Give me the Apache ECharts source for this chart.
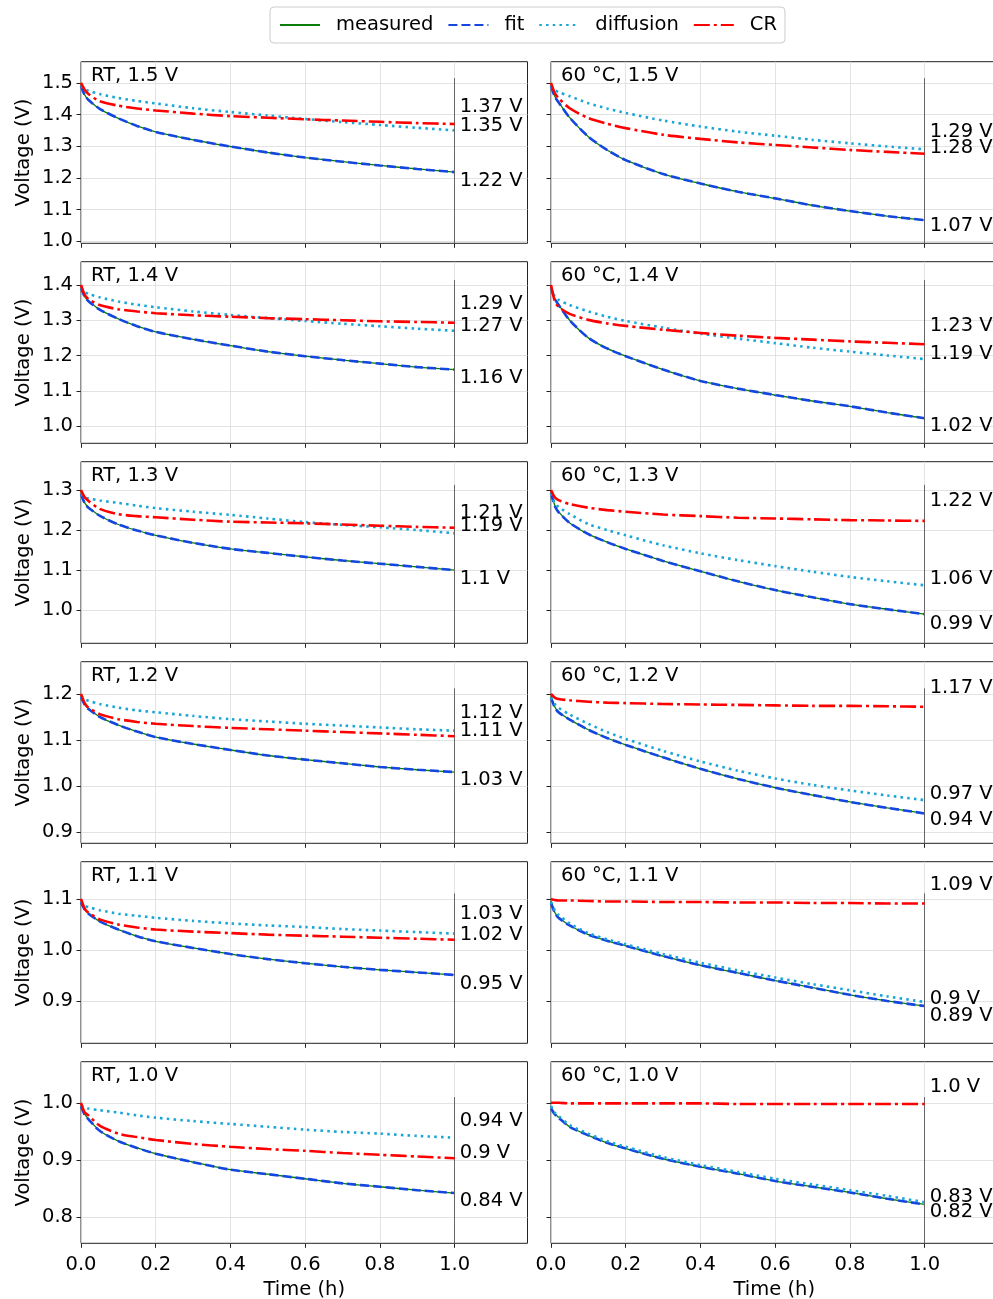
<!DOCTYPE html>
<html>
<head>
<meta charset="utf-8">
<script src="https://cdn.jsdelivr.net/npm/echarts@6/dist/echarts.min.js"></script>
<style>
  html, body { margin: 0; padding: 0; background: #fff; }
  #chart { width: 993px; height: 1299px; }
</style>
</head>
<body>
<div id="chart"></div>
<script>
// Sample times (h) shared by every curve
const timeH = [0, 0.01, 0.02, 0.05, 0.1, 0.15, 0.2, 0.3, 0.4, 0.5, 0.6, 0.7, 0.8, 0.9, 1.0];

// Set voltages per row and the two temperature conditions per column
const setVoltages = [1.5, 1.4, 1.3, 1.2, 1.1, 1.0];
const conditions = ['RT', '60 °C'];

// Y tick values per row
const yTicks = [
  [1.0, 1.1, 1.2, 1.3, 1.4, 1.5],
  [1.0, 1.1, 1.2, 1.3, 1.4],
  [1.0, 1.1, 1.2, 1.3],
  [0.9, 1.0, 1.1, 1.2],
  [0.9, 1.0, 1.1],
  [0.8, 0.9, 1.0]
];
const xTicks = [0, 0.2, 0.4, 0.6, 0.8, 1.0];

// Voltage (V) curves, panel order: RT 1.5, 60°C 1.5, RT 1.4, 60°C 1.4, ...
const measured = [
  [1.495,1.462,1.447,1.418,1.388,1.364,1.345,1.320,1.299,1.280,1.264,1.251,1.239,1.228,1.218],
  [1.495,1.458,1.440,1.390,1.330,1.288,1.256,1.212,1.182,1.156,1.135,1.113,1.095,1.079,1.066],
  [1.396,1.367,1.355,1.330,1.304,1.283,1.267,1.246,1.228,1.211,1.198,1.187,1.177,1.167,1.160],
  [1.396,1.362,1.345,1.300,1.250,1.220,1.198,1.160,1.128,1.106,1.088,1.071,1.056,1.038,1.022],
  [1.294,1.268,1.257,1.236,1.214,1.199,1.187,1.168,1.153,1.143,1.133,1.124,1.116,1.108,1.100],
  [1.296,1.262,1.246,1.218,1.190,1.170,1.153,1.123,1.097,1.072,1.050,1.032,1.015,1.002,0.990],
  [1.197,1.177,1.168,1.150,1.132,1.118,1.106,1.091,1.078,1.066,1.057,1.049,1.041,1.035,1.030],
  [1.196,1.172,1.161,1.144,1.122,1.104,1.089,1.062,1.037,1.015,0.996,0.980,0.965,0.952,0.940],
  [1.097,1.080,1.072,1.056,1.040,1.027,1.017,1.004,0.992,0.982,0.974,0.967,0.961,0.956,0.951],
  [1.096,1.074,1.064,1.048,1.030,1.018,1.008,0.988,0.970,0.955,0.940,0.926,0.912,0.900,0.890],
  [0.998,0.980,0.972,0.951,0.933,0.921,0.911,0.896,0.883,0.875,0.867,0.859,0.853,0.847,0.842],
  [0.992,0.981,0.975,0.958,0.943,0.930,0.920,0.902,0.888,0.876,0.863,0.853,0.843,0.832,0.822]
];
const fit = [
  [1.490,1.461,1.446,1.418,1.388,1.364,1.345,1.320,1.299,1.280,1.264,1.251,1.239,1.228,1.218],
  [1.490,1.457,1.439,1.390,1.330,1.288,1.256,1.212,1.182,1.156,1.135,1.113,1.095,1.079,1.066],
  [1.392,1.366,1.354,1.330,1.304,1.283,1.267,1.246,1.228,1.211,1.198,1.187,1.177,1.167,1.160],
  [1.392,1.361,1.344,1.300,1.250,1.220,1.198,1.160,1.128,1.106,1.088,1.071,1.056,1.038,1.022],
  [1.290,1.267,1.256,1.236,1.214,1.199,1.187,1.168,1.153,1.143,1.133,1.124,1.116,1.108,1.100],
  [1.292,1.261,1.245,1.218,1.190,1.170,1.153,1.123,1.097,1.072,1.050,1.032,1.015,1.002,0.990],
  [1.193,1.176,1.167,1.150,1.132,1.118,1.106,1.091,1.078,1.066,1.057,1.049,1.041,1.035,1.030],
  [1.192,1.171,1.160,1.144,1.122,1.104,1.089,1.062,1.037,1.015,0.996,0.980,0.965,0.952,0.940],
  [1.093,1.079,1.071,1.056,1.040,1.027,1.017,1.004,0.992,0.982,0.974,0.967,0.961,0.956,0.951],
  [1.092,1.073,1.063,1.048,1.030,1.018,1.008,0.988,0.970,0.955,0.940,0.926,0.912,0.900,0.890],
  [0.994,0.979,0.971,0.951,0.933,0.921,0.911,0.896,0.883,0.875,0.867,0.859,0.853,0.847,0.842],
  [0.990,0.980,0.974,0.958,0.943,0.930,0.920,0.902,0.888,0.876,0.863,0.853,0.843,0.832,0.822]
];
const diffusion = [
  [1.490,1.480,1.475,1.465,1.452,1.443,1.435,1.420,1.408,1.397,1.386,1.376,1.367,1.358,1.350],
  [1.490,1.478,1.471,1.458,1.436,1.419,1.405,1.381,1.362,1.346,1.333,1.320,1.309,1.299,1.290],
  [1.392,1.380,1.375,1.365,1.353,1.344,1.337,1.325,1.315,1.306,1.298,1.290,1.283,1.276,1.270],
  [1.392,1.368,1.358,1.343,1.325,1.310,1.298,1.279,1.262,1.248,1.235,1.222,1.211,1.200,1.190],
  [1.290,1.282,1.279,1.274,1.268,1.261,1.255,1.246,1.238,1.229,1.220,1.213,1.207,1.200,1.192],
  [1.292,1.268,1.258,1.240,1.215,1.200,1.187,1.162,1.142,1.125,1.110,1.096,1.083,1.072,1.062],
  [1.195,1.188,1.185,1.178,1.170,1.164,1.160,1.152,1.145,1.140,1.135,1.131,1.127,1.123,1.120],
  [1.192,1.178,1.170,1.155,1.135,1.117,1.102,1.076,1.053,1.033,1.016,1.002,0.990,0.979,0.969],
  [1.095,1.087,1.084,1.078,1.071,1.067,1.063,1.057,1.052,1.048,1.045,1.041,1.038,1.035,1.032],
  [1.094,1.078,1.069,1.052,1.033,1.021,1.011,0.992,0.975,0.960,0.946,0.933,0.921,0.909,0.898],
  [0.995,0.992,0.990,0.987,0.983,0.978,0.974,0.968,0.963,0.958,0.953,0.949,0.946,0.942,0.939],
  [0.994,0.983,0.977,0.961,0.946,0.933,0.923,0.905,0.891,0.879,0.867,0.857,0.847,0.837,0.826]
];
const cr = [
  [1.500,1.478,1.465,1.442,1.428,1.419,1.413,1.403,1.395,1.390,1.385,1.381,1.377,1.373,1.370],
  [1.500,1.468,1.452,1.420,1.389,1.371,1.357,1.336,1.323,1.312,1.304,1.296,1.288,1.282,1.276],
  [1.400,1.372,1.360,1.343,1.331,1.325,1.320,1.314,1.310,1.306,1.303,1.300,1.297,1.295,1.293],
  [1.400,1.355,1.338,1.318,1.301,1.291,1.284,1.273,1.264,1.256,1.250,1.245,1.240,1.236,1.232],
  [1.300,1.282,1.273,1.253,1.240,1.235,1.232,1.226,1.221,1.219,1.217,1.214,1.211,1.208,1.206],
  [1.300,1.282,1.275,1.265,1.256,1.250,1.246,1.239,1.235,1.231,1.229,1.227,1.225,1.224,1.223],
  [1.200,1.180,1.170,1.156,1.145,1.139,1.135,1.130,1.126,1.123,1.120,1.117,1.114,1.111,1.108],
  [1.200,1.192,1.189,1.186,1.183,1.181,1.180,1.178,1.177,1.176,1.175,1.174,1.174,1.173,1.172],
  [1.100,1.081,1.073,1.060,1.050,1.044,1.040,1.036,1.033,1.030,1.028,1.026,1.024,1.022,1.020],
  [1.100,1.098,1.097,1.097,1.096,1.095,1.095,1.094,1.094,1.093,1.093,1.092,1.092,1.091,1.091],
  [1.000,0.983,0.978,0.960,0.946,0.940,0.935,0.928,0.923,0.919,0.916,0.912,0.909,0.906,0.903],
  [1.000,1.000,1.000,0.999,0.999,0.999,0.999,0.999,0.999,0.998,0.998,0.998,0.998,0.998,0.998]
];

// ---- layout (pixels) ----
const yRange = [
  [0.993, 1.567], [0.951, 1.466], [0.917, 1.371],
  [0.875, 1.270], [0.817, 1.173], [0.754, 1.072]
];
const colLeft = [81, 551];
const plotW = 446.5, plotH = 181.6, rowTop0 = 61.7, rowStep = 200;
const xMax = 1.195;
// vertical nudge of the end-value labels: [CR, diffusion, measured]
const labelNudge = [
  [-17, -4, 9], [-5.5, -17, 6],
  [-18.5, -4.5, 8], [-18, -5, 8],
  [-15, -7, 9], [-20, -6, 10],
  [-5.4, -18, 8], [-19, -6, 6.4],
  [-4.8, -19.7, 8.5], [-19, -3, 10],
  [-5.5, -17, 8], [-17, -5, 7.3]
];

const FONT = 'DejaVu Sans';
const FS = 19.5;

function fmtVolt(v) {
  let s = String(Math.round(v * 100) / 100);
  if (s.indexOf('.') < 0) s += '.0';
  return s + ' V';
}

const grids = [], xAxes = [], yAxes = [], titles = [], series = [];

const styles = {
  measured:  { color: '#0a7d0a', width: 1.3, type: 'solid' },
  fit:       { color: '#1446e0', width: 2.6, type: [9, 4] },
  diffusion: { color: '#18a6d6', width: 2.6, type: [2.5, 4.2] },
  CR:        { color: '#ff0000', width: 2.6, type: [16, 4, 3, 4] }
};

for (let i = 0; i < 12; i++) {
  const r = Math.floor(i / 2), c = i % 2;
  const v0 = setVoltages[r];
  const [ymin, ymax] = yRange[r];
  grids.push({
    left: colLeft[c], top: rowTop0 + rowStep * r, width: plotW, height: plotH,
    outerBoundsMode: 'none', containLabel: false,
    show: true, borderColor: '#222', borderWidth: 1, backgroundColor: 'transparent'
  });
  xAxes.push({
    type: 'value', gridIndex: i, min: 0, max: xMax,
    axisLine: { show: false },
    axisTick: { show: true, length: 4.5, lineStyle: { color: '#222', width: 1 }, customValues: xTicks },
    axisLabel: {
      show: r === 5, customValues: xTicks, margin: 12,
      formatter: v => v.toFixed(1), fontSize: FS, color: '#000', fontFamily: FONT
    },
    splitLine: { show: true, lineStyle: { color: '#dcdcdc', width: 0.8 } },
    name: r === 5 ? 'Time (h)' : '', nameLocation: 'middle', nameGap: 37,
    nameTextStyle: { fontSize: FS, color: '#000', fontFamily: FONT }
  });
  yAxes.push({
    type: 'value', gridIndex: i, min: ymin, max: ymax,
    axisLine: { show: false },
    axisTick: { show: true, length: 4.5, lineStyle: { color: '#222', width: 1 }, customValues: yTicks[r] },
    axisLabel: {
      show: c === 0, customValues: yTicks[r], margin: 8,
      formatter: v => v.toFixed(1), fontSize: FS, color: '#000', fontFamily: FONT
    },
    splitLine: { show: true, lineStyle: { color: '#dcdcdc', width: 0.8 } },
    name: c === 0 ? 'Voltage (V)' : '', nameLocation: 'middle', nameGap: 47, nameRotate: 90,
    nameTextStyle: { fontSize: FS, color: '#000', fontFamily: FONT }
  });
  titles.push({
    text: conditions[c] + ', ' + v0.toFixed(1) + ' V',
    left: colLeft[c] + 10, top: rowTop0 + rowStep * r + 4.5, padding: 0,
    textStyle: { fontSize: FS, fontWeight: 'normal', color: '#000', fontFamily: FONT }
  });

  const curves = [
    ['measured', measured[i]], ['fit', fit[i]],
    ['diffusion', diffusion[i]], ['CR', cr[i]]
  ];
  const nudgeIdx = { CR: 0, diffusion: 1, measured: 2 };
  curves.forEach(([name, vals], k) => {
    const st = styles[name];
    const endVal = vals[vals.length - 1];
    const s = {
      type: 'line', name, xAxisIndex: i, yAxisIndex: i,
      data: timeH.map((t, j) => [t, vals[j]]),
      symbol: 'none', smooth: 0.25, silent: true,
      lineStyle: { color: st.color, width: st.width, type: st.type, cap: 'butt' },
      itemStyle: { color: st.color },
      z: 2 + k
    };
    if (name in nudgeIdx) {
      s.markPoint = {
        symbol: 'circle', symbolSize: 0, silent: true,
        data: [{ coord: [1.0, endVal], value: endVal }],
        label: {
          show: true, position: 'right', distance: 5,
          offset: [0, labelNudge[i][nudgeIdx[name]]],
          formatter: p => fmtVolt(p.value),
          fontSize: FS, color: '#000', fontFamily: FONT
        }
      };
    }
    if (name === 'measured') {
      s.markLine = {
        symbol: ['none', 'none'], silent: true, animation: false,
        label: { show: false },
        lineStyle: { color: '#666', width: 1, type: 'solid' },
        data: [[{ coord: [1.0, ymin] }, { coord: [1.0, v0 * 1.01] }]]
      };
    }
    series.push(s);
  });
}

const chart = echarts.init(document.getElementById('chart'));
chart.setOption({
  animation: false,
  backgroundColor: '#fff',
  textStyle: { fontFamily: FONT },
  title: titles,
  legend: {
    data: ['measured', 'fit', 'diffusion', 'CR'],
    top: 7, left: 270,
    itemWidth: 40, itemHeight: 14, itemGap: 14,
    itemStyle: { opacity: 0 },
    textStyle: { fontSize: FS, color: '#000', fontFamily: FONT, padding: [0, 0, 0, 11] },
    borderColor: '#cccccc', borderWidth: 1, borderRadius: 4,
    padding: [8, 8, 8, 9],
    selectedMode: false
  },
  grid: grids,
  xAxis: xAxes,
  yAxis: yAxes,
  series
});
</script>
</body>
</html>
